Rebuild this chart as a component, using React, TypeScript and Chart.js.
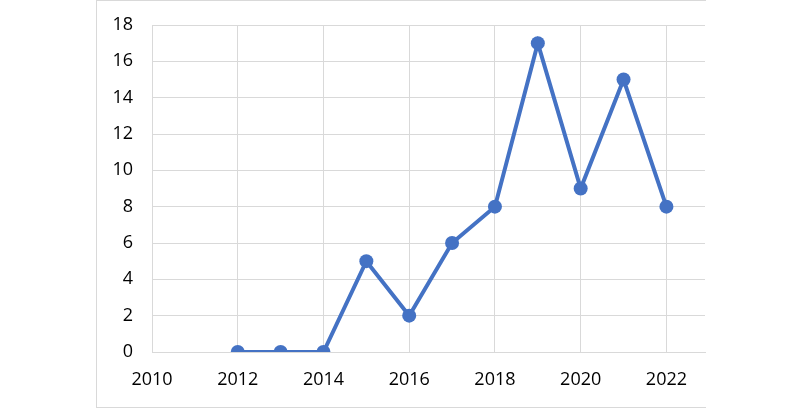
import React, { useEffect, useRef } from "react";
import { Chart, registerables } from "chart.js";

Chart.register(...registerables);

const years = [2012, 2013, 2014, 2015, 2016, 2017, 2018, 2019, 2020, 2021, 2022];
const counts = [0, 0, 0, 5, 2, 6, 8, 17, 9, 15, 8];
const xTicks = [2010, 2012, 2014, 2016, 2018, 2020, 2022];
const yTicks = [0, 2, 4, 6, 8, 10, 12, 14, 16, 18];

export default function App() {
  const ref = useRef<HTMLCanvasElement>(null);
  useEffect(() => {
    if (!ref.current) return;
    const font = { family: "'Open Sans', 'Noto Sans', sans-serif", size: 18 };
    const chart = new Chart(ref.current, {
      type: "scatter",
      data: {
        datasets: [
          {
            data: years.map((y, i) => ({ x: y, y: counts[i] })),
            showLine: true,
            borderColor: "#4472C4",
            backgroundColor: "#4472C4",
            borderWidth: 4,
            pointRadius: 7,
            pointHoverRadius: 7,
            pointBorderWidth: 0,
            tension: 0,
          },
        ],
      },
      options: {
        animation: false,
        responsive: false,
        maintainAspectRatio: false,
        layout: { padding: { left: 96, right: 95, top: 25, bottom: 0 } },
        plugins: { legend: { display: false }, tooltip: { enabled: false } },
        scales: {
          x: {
            type: "linear",
            min: 2010,
            max: 2022.9,
            afterBuildTicks: (s: any) => {
              s.ticks = xTicks.map((v) => ({ value: v }));
            },
            afterFit: (s: any) => {
              s.height = 56;
              s.paddingLeft = 0;
              s.paddingRight = 0;
            },
            grid: { color: "#d9d9d9", lineWidth: 1, drawTicks: false },
            border: { color: "#d9d9d9", width: 1 },
            ticks: {
              color: "#000",
              font,
              padding: 17,
              maxRotation: 0,
              callback: (v: any) => String(v),
            },
          },
          y: {
            min: 0,
            max: 18,
            afterBuildTicks: (s: any) => {
              s.ticks = yTicks.map((v) => ({ value: v }));
            },
            afterFit: (s: any) => {
              s.width = 56;
              s.paddingTop = 0;
              s.paddingBottom = 0;
            },
            grid: { color: "#d9d9d9", lineWidth: 1, drawTicks: false },
            border: { color: "#d9d9d9", width: 1 },
            ticks: { color: "#000", font, padding: 19 },
          },
        },
      },
    });
    return () => chart.destroy();
  }, []);
  return (
    <div style={{ position: "fixed", left: 0, top: 0, width: 800, height: 408, background: "#fff" }}>
      <div
        style={{
          position: "absolute",
          left: 96,
          top: 0,
          width: 609,
          height: 406,
          borderLeft: "1.5px solid #d9d9d9",
          borderTop: "1.5px solid #d9d9d9",
          borderBottom: "1.5px solid #d9d9d9",
        }}
      />
      <canvas ref={ref} width={800} height={408} style={{ position: "absolute", left: 0, top: 0 }} />
    </div>
  );
}
